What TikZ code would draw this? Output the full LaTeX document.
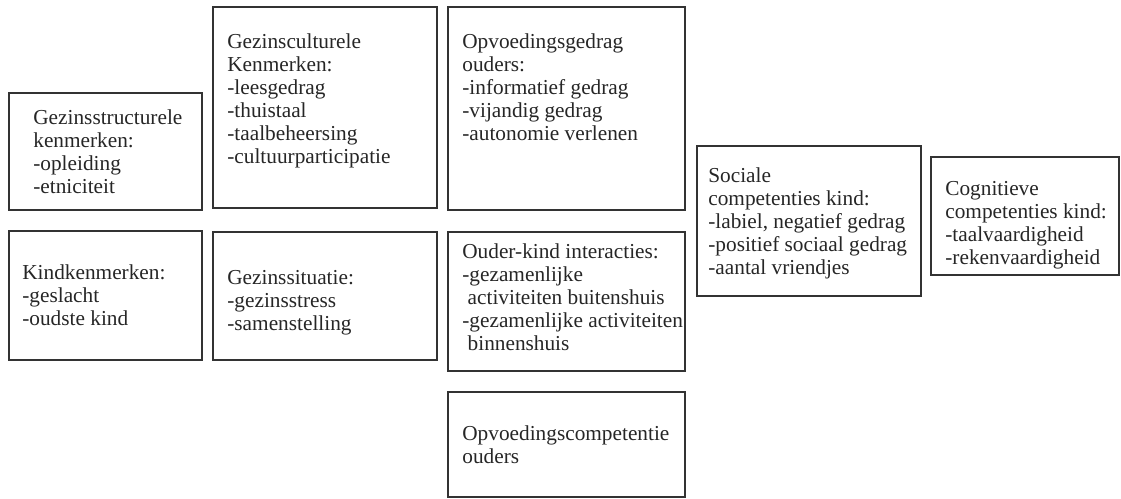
\documentclass[tikz,border=0pt]{standalone}
\usepackage{fontspec}
\setmainfont{Liberation Serif}
\usetikzlibrary{fit}
\newcommand{\regels}[1]{\begin{tabular}[t]{@{}l@{}}#1\end{tabular}}
\begin{document}
\begin{tikzpicture}[x=0.5634pt,y=-0.5634pt]
  \tikzstyle{kader}=[draw=black!80,line width=0.8pt,inner sep=0pt]
  \tikzstyle{tekst}=[anchor=base west,inner sep=0pt,text=black!85,font=\fontsize{12pt}{13pt}\selectfont]
  \useasboundingbox (0,0) rectangle (1121,498);
  % kaders
  \node[kader, fit={(9,93) (202,210)}] (structuur) {};
  \node[kader, fit={(9,231) (202,360)}] (kind) {};
  \node[kader, fit={(213,7) (437,208)}] (cultuur) {};
  \node[kader, fit={(213,232) (437,360)}] (situatie) {};
  \node[kader, fit={(448,7) (685,210)}] (gedrag) {};
  \node[kader, fit={(448,232) (685,371)}] (interactie) {};
  \node[kader, fit={(448,392) (685,497)}] (competentie) {};
  \node[kader, fit={(697,146) (921,296)}] (sociaal) {};
  \node[kader, fit={(931,157) (1119,275)}] (cognitief) {};
  % teksten
  \node[tekst] (structuur-t) at (33,124) {\regels{Gezinsstructurele\\kenmerken:\\-opleiding\\-etniciteit}};
  \node[tekst] (kind-t) at (22,279) {\regels{Kindkenmerken:\\-geslacht\\-oudste kind}};
  \node[tekst] (cultuur-t) at (227,48) {\regels{Gezinsculturele\\Kenmerken:\\-leesgedrag\\-thuistaal\\-taalbeheersing\\-cultuurparticipatie}};
  \node[tekst] (situatie-t) at (227,284) {\regels{Gezinssituatie:\\-gezinsstress\\-samenstelling}};
  \node[tekst] (gedrag-t) at (462,48) {\regels{Opvoedingsgedrag\\ouders:\\-informatief gedrag\\-vijandig gedrag\\-autonomie verlenen}};
  \node[tekst] (interactie-t) at (462,258) {\regels{Ouder-kind interacties:\\-gezamenlijke\\\ activiteiten buitenshuis\\-gezamenlijke activiteiten\\\ binnenshuis}};
  \node[tekst] (competentie-t) at (462,440) {\regels{Opvoedingscompetentie\\ouders}};
  \node[tekst] (sociaal-t) at (708,182) {\regels{Sociale\\competenties kind:\\-labiel, negatief gedrag\\-positief sociaal gedrag\\-aantal vriendjes}};
  \node[tekst] (cognitief-t) at (945,195) {\regels{Cognitieve\\competenties kind:\\-taalvaardigheid\\-rekenvaardigheid}};
\end{tikzpicture}
\end{document}
